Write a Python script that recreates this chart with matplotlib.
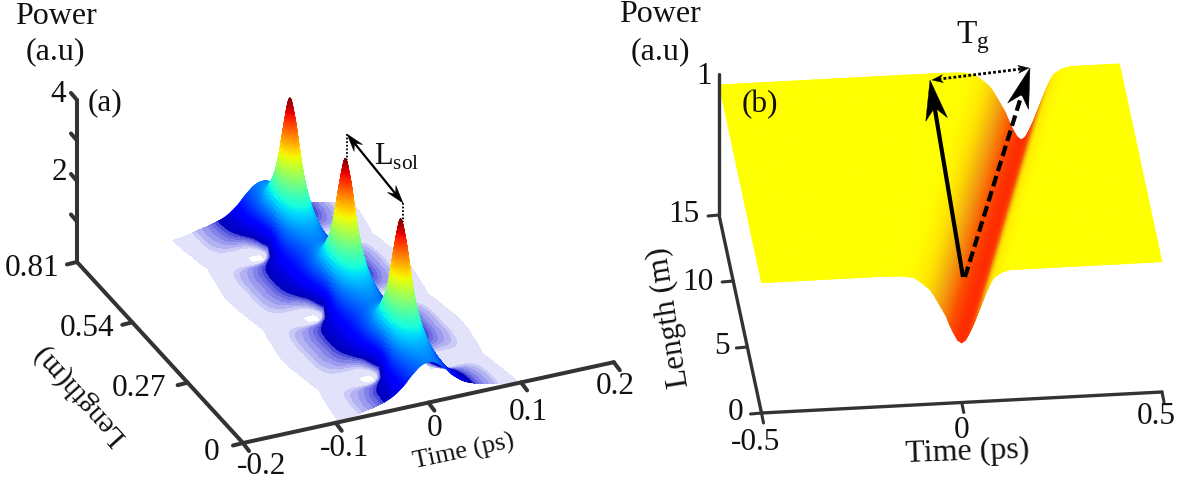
import numpy as np
import matplotlib
matplotlib.use("Agg")
import matplotlib.pyplot as plt
import matplotlib.tri as mtri
from matplotlib.collections import PolyCollection
from matplotlib.colors import LinearSegmentedColormap
from matplotlib.patches import Polygon

plt.rcParams['font.family'] = ['Liberation Serif', 'DejaVu Serif']
plt.rcParams['mathtext.fontset'] = 'custom'
plt.rcParams['mathtext.rm'] = 'Liberation Serif'

# ---------- panel (a) data ----------
a_time_ticks = [-0.2, -0.1, 0, 0.1, 0.2]
a_time_labels = ['-0.2', '-0.1', '0', '0.1', '0.2']
a_len_ticks = [0, 0.27, 0.54, 0.81]
a_len_labels = ['0', '0.27', '0.54', '0.81']
a_pow_ticks = [0, 1, 2, 3, 4]
a_pow_labels = {2: '2', 4: '4'}
a_peak_spacing = 0.27
# offset in time from the pulse centre
a_t = [0, .005, .01, .015, .02, .025, .03, .035, .04, .05, .06, .07, .08, .09, .10]
# distance in length from the nearest peak
a_d = [0, .01, .02, .03, .045, .06, .08, .10, .12, .135]
a_power = [
    [3.80, 3.30, 2.30, 1.30, .50, .15, .004, .002, .004, .04, .05, .05, .035, .012, .00],
    [3.45, 3.05, 2.20, 1.30, .56, .22, .012, .004, .008, .045, .055, .055, .04, .014, .00],
    [2.90, 2.62, 2.00, 1.30, .62, .30, .10, .05, .045, .06, .07, .065, .045, .016, .00],
    [2.45, 2.25, 1.80, 1.25, .68, .38, .18, .10, .08, .085, .09, .08, .05, .018, .00],
    [1.95, 1.82, 1.55, 1.18, .78, .48, .28, .19, .15, .13, .12, .10, .06, .02, .002],
    [1.60, 1.52, 1.35, 1.10, .82, .56, .38, .28, .22, .18, .145, .115, .065, .022, .004],
    [1.28, 1.24, 1.14, .97, .80, .60, .45, .35, .28, .21, .16, .125, .07, .025, .006],
    [1.12, 1.09, 1.02, .90, .76, .61, .48, .38, .31, .225, .17, .13, .075, .027, .008],
    [1.04, 1.02, .95, .85, .73, .60, .49, .39, .32, .23, .17, .13, .075, .03, .008],
    [1.00, .98, .92, .82, .71, .58, .48, .39, .32, .23, .17, .13, .07, .03, .008],
]
a_floor_levels = [.015, .10, .125, .15, .175, .20, .225, .26]
a_floor_colors = ['#e2e2fa', '#cacaf6', '#b2b2f2', '#9a9aee', '#8282e9', '#6a6ae3', '#4c4cdb']
a_surface_floor = .25

# ---------- panel (b) data ----------
b_time_ticks = [-0.5, 0, 0.5]
b_time_labels = ['-0.5', '0', '0.5']
b_len_ticks = [0, 5, 10, 15]
b_len_labels = ['0', '5', '10', '15']
b_u = [-.5, -.2, -.15, -.12, -.10, -.08, -.07, -.06, -.05, -.04, -.03, -.02, -.01, 0,
       .01, .02, .03, .04, .05, .06, .07, .08, .10, .12, .5]
b_power = [.92, .92, .915, .90, .86, .81, .77, .72, .67, .62, .55, .49, .44, .42,
           .44, .49, .55, .62, .69, .76, .82, .87, .905, .92, .92]
b_length_ends = [0, 15]
b_centre_ends = [0, .255]

# ---------- figure in pixel units ----------
fig = plt.figure(figsize=(11.96, 4.83), dpi=100)
ax = fig.add_axes([0, 0, 1, 1])
ax.set_xlim(0, 1196)
ax.set_ylim(483, 0)
ax.axis('off')
AXC = '#333333'
TXT = '#111111'


def pa(t, L, P=0):
    t, L, P = np.asarray(t, float), np.asarray(L, float), np.asarray(P, float)
    return (243 + (t + .2) * 927 - 205 * L, 443 - (t + .2) * 202 - 223.5 * L - 40.5 * P)


def pb(t, L, P=0):
    t, L, P = np.asarray(t, float), np.asarray(L, float), np.asarray(P, float)
    return (761.5 + (t + .5) * 400.5 - 2.83 * L, 413 - (t + .5) * 21 - 13.2 * L - 141.5 * P)


def surface(X, Y, floor_y, colors, mask=None):
    quads = np.stack([np.stack([X[:-1, :-1], Y[:-1, :-1]], -1),
                      np.stack([X[:-1, 1:], Y[:-1, 1:]], -1),
                      np.stack([X[1:, 1:], Y[1:, 1:]], -1),
                      np.stack([X[1:, :-1], Y[1:, :-1]], -1)], 2)
    quads = quads.reshape(-1, 4, 2)
    cols = colors.reshape(-1, 4)
    order = np.argsort(floor_y.ravel())
    if mask is not None:
        order = order[mask.ravel()[order]]
    ax.add_collection(PolyCollection(quads[order], facecolors=cols[order],
                                     edgecolors=cols[order], linewidths=.4, zorder=3))


# ---------- panel (a) surface ----------
a_t_arr = np.array(a_t)
a_d_arr = np.array(a_d)
tt = np.concatenate([-a_t_arr[:0:-1], a_t_arr])
rows = np.array(a_power)
rows = np.hstack([rows[:, :0:-1], rows])
ll, pp = [], []
for k in range(3):
    centre = a_peak_spacing * (k + .5)
    ll += list(centre - a_d_arr[:0:-1]) + list(centre + a_d_arr)
    pp += list(rows[:0:-1]) + list(rows)
ll, idx = np.unique(np.round(ll, 5), return_index=True)
pp = np.array(pp)[idx]
TT, LL = np.meshgrid(tt, ll)
tri = mtri.Triangulation(TT.ravel() * 10, LL.ravel() * 5)
interp = mtri.CubicTriInterpolator(tri, pp.ravel(), kind='geom')
tf = np.linspace(-.0999, .0999, 261)
lf = np.linspace(.0001, .8099, 541)
TF, LF = np.meshgrid(tf, lf)
PF = np.clip(np.ma.filled(interp(TF * 10, LF * 5), 0), 0, None)

FX, FY = pa(TF, LF)
SX, SY = pa(TF, LF, PF)
# the low-power bands follow the surface, so they meet its blue edge without a gap
ax.contourf(SX, SY, PF, levels=a_floor_levels, colors=a_floor_colors, zorder=2)
Pm = (PF[:-1, :-1] + PF[1:, 1:] + PF[:-1, 1:] + PF[1:, :-1]) / 4
surface(SX, SY, (FY[:-1, :-1] + FY[1:, 1:]) / 2,
        plt.get_cmap('jet')(np.clip((Pm - .05) / 3.75, 0, 1)), Pm > a_surface_floor)


def tline(x0, y0, x1, y1, lw=2.9):
    ax.plot([x0, x1], [y0, y1], color=AXC, lw=lw, solid_capstyle='round', zorder=5)


# axes (a)
x0, y0 = pa(-.2, 0)
x1, y1 = pa(.2, 0)
tline(x0, y0, x1, y1)
x2, y2 = pa(-.2, .81)
tline(x0, y0, x2, y2)
x3, y3 = pa(-.2, .81, 4)
tline(x2, y2, x3, y3)
for v in a_time_ticks:
    x, y = pa(v, 0)
    tline(x, y, x + 6, y + 8)
for v in a_len_ticks:
    x, y = pa(-.2, v)
    tline(x, y, x - 10, y + 2.5)
for v in a_pow_ticks[1:]:
    x, y = pa(-.2, .81, v)
    tline(x, y, x - 6, y - 7)

FS = 23
TS = 22.5
a_time_pos = [(262, 467), (345, 449), (435, 428), (528, 412), (615, 386)]
for s, p in zip(a_time_labels, a_time_pos):
    ax.text(*p, s, fontsize=TS, ha='center', va='center', color=TXT)
a_len_pos = [(212, 453), (139, 389), (87, 329), (32, 268)]
for s, p in zip(a_len_labels, a_len_pos):
    ax.text(*p, s, fontsize=TS, ha='center', va='center', color=TXT)
ax.text(58, 94, a_pow_labels[4], fontsize=TS, ha='center', va='center', color=TXT)
ax.text(59, 172, a_pow_labels[2], fontsize=TS, ha='center', va='center', color=TXT)
ax.text(56, 16, 'Power', fontsize=FS, ha='center', va='center', color=TXT)
ax.text(55, 52, '(a.u)', fontsize=FS, ha='center', va='center', color=TXT)
ax.text(105, 103, '(a)', fontsize=TS, ha='center', va='center', color=TXT)
ax.text(464, 452, 'Time (ps)', fontsize=19, rotation=12, ha='center', va='center', color=TXT,
        rotation_mode='anchor')
ax.text(80, 395, 'Length(m)', fontsize=21, rotation=132, ha='center', va='center', color=TXT,
        rotation_mode='anchor')
ax.text(397, 157, r'L$_{\mathrm{sol}}$', fontsize=22, ha='center', va='center', color=TXT)


def head(p0, p1, length, width, notch=.3, zorder=7):
    p0, p1 = np.array(p0, float), np.array(p1, float)
    d = (p1 - p0) / np.hypot(*(p1 - p0))
    n = np.array([-d[1], d[0]])
    base = p1 - d * length
    ax.add_patch(Polygon([p1, base + n * width / 2, p1 - d * length * (1 - notch),
                          base - n * width / 2], closed=True, fc='k', ec='k', lw=.3, zorder=zorder))


def arrow(p0, p1, lw, ls, length, width, both=False, notch=.3):
    p0, p1 = np.array(p0, float), np.array(p1, float)
    d = (p1 - p0) / np.hypot(*(p1 - p0))
    a = p0 + d * (length * .6 if both else 0)
    b = p1 - d * length * .6
    ax.plot([a[0], b[0]], [a[1], b[1]], color='k', lw=lw, ls=ls, zorder=6,
            solid_capstyle='butt', dash_capstyle='butt')
    head(p0, p1, length, width, notch)
    if both:
        head(p1, p0, length, width, notch)


ax.plot([347, 347], [134, 160], color='k', lw=1.3, ls=(0, (1, 1)), zorder=6)
ax.plot([403, 403], [203, 222], color='k', lw=1.3, ls=(0, (1, 1)), zorder=6)
arrow((347, 134), (403, 203), 1.6, '-', 18, 11, both=True, notch=.35)

# ---------- panel (b) surface ----------
cmap_b = LinearSegmentedColormap.from_list(
    'ry', [(0, '#ff2a00'), (.25, '#fb5200'), (.55, '#f3a010'), (.85, '#ffe800'), (1, '#ffff00')])
tb = np.linspace(-.5, .5, 501)
lb = np.linspace(b_length_ends[0], b_length_ends[1], 121)
TB, LB = np.meshgrid(tb, lb)
CB = np.interp(LB, b_length_ends, b_centre_ends)
PB = np.interp(TB - CB, b_u, b_power)
BX, BY = pb(TB, LB, PB)
_, BFY = pb(TB, LB)
PBm = (PB[:-1, :-1] + PB[1:, 1:] + PB[:-1, 1:] + PB[1:, :-1]) / 4
colb = cmap_b(np.clip((PBm - .42) / .50, 0, 1))
surface(BX, BY, (BFY[:-1, :-1] + BFY[1:, 1:]) / 2, colb)

# axes (b)
xa, ya = pb(-.5, 0)
xb, yb = pb(.5, 0)
tline(xa, ya, xb, yb, 2.4)
xc, yc = pb(-.5, 15)
tline(xa, ya, xc, yc, 2.4)
xd, yd = pb(-.5, 15, 1)
tline(xc, yc, xd, yd, 2.4)
for v in b_time_ticks:
    x, y = pb(v, 0)
    tline(x, y, x + 2, y + 10, 2.2)
for v in b_len_ticks:
    x, y = pb(-.5, v)
    tline(x, y, x - 11, y + 1, 2.2)

b_time_pos = [(756, 442), (962, 430), (1156, 417)]
for s, p in zip(b_time_labels, b_time_pos):
    ax.text(*p, s, fontsize=TS, ha='center', va='center', color=TXT)
b_len_pos = [(736, 413), (722, 347), (698, 282), (684, 215)]
for s, p in zip(b_len_labels, b_len_pos):
    ax.text(*p, s, fontsize=TS, ha='center', va='center', color=TXT)
ax.text(704, 77, '1', fontsize=TS, ha='center', va='center', color=TXT)
ax.text(660, 15, 'Power', fontsize=FS, ha='center', va='center', color=TXT)
ax.text(660, 52, '(a.u)', fontsize=FS, ha='center', va='center', color=TXT)
ax.text(760, 105, '(b)', fontsize=TS, ha='center', va='center', color=TXT)
ax.text(967, 452, 'Time (ps)', fontsize=23, rotation=2, ha='center', va='center', color=TXT)
ax.text(670, 317, 'Length (m)', fontsize=22.5, rotation=99, ha='center', va='center', color=TXT)
ax.text(973, 38, r'T$_{\mathrm{g}}$', fontsize=24, ha='center', va='center', color=TXT)

arrow((963, 277), (930, 80), 3.0, '-', 40, 22)
arrow((965, 277), (1030, 68), 3.0, (0, (2.6, 1.2)), 40, 22)
arrow((932, 80), (1029, 68), 2.0, (0, (1, .8)), 11, 8, both=True)

fig.savefig('out.png', dpi=100)
